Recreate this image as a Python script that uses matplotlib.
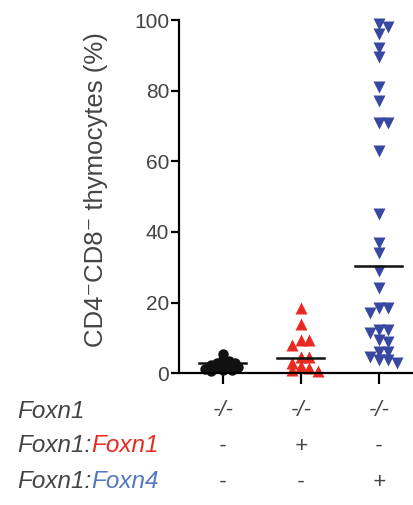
import numpy as np
import matplotlib
matplotlib.use("Agg")
from matplotlib import pyplot as plt
from matplotlib import transforms

plt.rcParams['font.family'] = ['Liberation Sans', 'DejaVu Sans']

# values (% CD4-CD8- thymocytes)
black_vals = [5.5, 4.0, 3.5, 3.0, 3.0, 2.5, 2.2, 2.0, 1.8, 1.5, 1.2, 1.0, 0.8, 0.5]
red_vals = [18.4, 14.0, 9.3, 9.3, 8.0, 4.5, 4.5, 3.0, 2.0, 1.5, 1.0, 0.5]
blue_vals = [99, 98, 96, 92, 89.5, 81, 77, 71, 71, 63,
             45, 37, 34, 29, 24,
             18.4, 18.4, 17, 12.2, 12.2, 11.3, 9.3, 8.8, 6, 6, 4.5, 3.7, 3.7, 3]
means = [2.8, 4.3, 30.3]

row_names = ["Foxn1", "Foxn1:", "Foxn1:"]
row_colored = ["", "Foxn1", "Foxn4"]
genotypes = [["-/-", "-/-", "-/-"],
             ["-", "+", "-"],
             ["-", "-", "+"]]

c_black = "#111111"
c_red = "#e82a22"
c_blue = "#3848a0"
c_text = "#444444"

fig = plt.figure(figsize=(4.14, 5.05), dpi=100)
ax = fig.add_axes([0.432, 0.261, 0.568, 0.699])
ax.set_xlim(0.436, 3.45)
ax.set_ylim(0, 100)


def swarm(ax, x0, vals, diam_px):
    # simple beeswarm: place points one by one, avoiding overlap in pixels
    fig.canvas.draw()
    tr = ax.transData
    placed = []
    xs = []
    for v in vals:
        px, py = tr.transform((x0, v))
        k = 0
        while True:
            step = (k + 1) // 2 * (1 if k % 2 else -1)
            cx = px + step * diam_px * 0.6
            ok = all((cx - qx) ** 2 + (py - qy) ** 2 >= diam_px ** 2
                     for qx, qy in placed)
            if ok:
                break
            k += 1
        placed.append((cx, py))
        xs.append(tr.inverted().transform((cx, py))[0])
    return xs


bx = swarm(ax, 1, black_vals, 5)
rx = swarm(ax, 2, red_vals, 7)
ux = swarm(ax, 3, blue_vals, 7.5)

ax.plot(bx, black_vals, 'o', color=c_black, ms=7.5, mec='none', clip_on=False)
ax.plot(rx, red_vals, '^', color=c_red, ms=8.5, mec='none', clip_on=False)
ax.plot(ux, blue_vals, 'v', color=c_blue, ms=8.5, mec='none', clip_on=False)

for i, m in enumerate(means):
    ax.plot([i + 1 - 0.3, i + 1 + 0.3], [m, m], '-', color=c_black, lw=1.8,
            zorder=5)

ax.spines['top'].set_visible(False)
ax.spines['right'].set_visible(False)
ax.spines['left'].set_linewidth(1.6)
ax.spines['bottom'].set_linewidth(1.6)
ax.set_yticks([0, 20, 40, 60, 80, 100])
ax.set_xticks([1, 2, 3])
ax.set_xticklabels([])
ax.tick_params(axis='y', length=6, width=1.6, labelsize=15,
               labelcolor=c_text, pad=1)
ax.tick_params(axis='x', length=8, width=1.6)
ax.set_ylabel("CD4\u207bCD8\u207b thymocytes (%)", fontsize=18.5,
              color=c_text)
ax.yaxis.set_label_coords(-0.30, 0.52)

# genotype table under the axis
trans = transforms.blended_transform_factory(ax.transData, fig.transFigure)
row_y = [1 - 411 / 505, 1 - 446 / 505, 1 - 482 / 505]
renderer = fig.canvas.get_renderer()
for r in range(3):
    t = fig.text(17 / 414, row_y[r], row_names[r], fontsize=17.5,
                 style='italic', color=c_text, va='center', ha='left')
    if row_colored[r]:
        bb = t.get_window_extent(renderer)
        col = c_red if r == 1 else "#5578c0"
        fig.text(bb.x1 / fig.bbox.width, row_y[r], row_colored[r],
                 fontsize=17.5, style='italic', color=col, va='center',
                 ha='left')
    for g in range(3):
        fig.text(g + 1, row_y[r], genotypes[r][g], transform=trans,
                 fontsize=16, style='italic', color=c_text, ha='center',
                 va='center')

plt.savefig("out.png", dpi=100)
plt.close()
